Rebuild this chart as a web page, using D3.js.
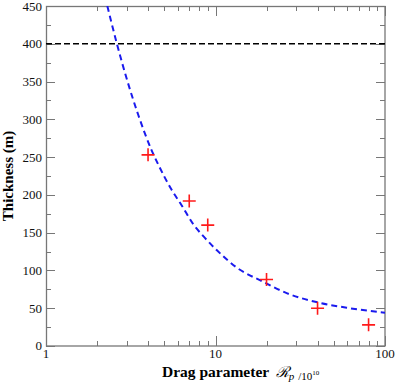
<!DOCTYPE html>
<html>
<head>
<meta charset="utf-8">
<script src="https://cdn.jsdelivr.net/npm/d3@7"></script>
<style>
  body { margin: 0; background: #fff; }
  text { font-family: "Liberation Serif", "Times New Roman", serif; }
</style>
</head>
<body>
<svg id="chart" width="396" height="382"></svg>
<script>
"use strict";

// measured points (drag parameter, thickness in m)
const dragParam = [4, 7, 9, 20, 40, 80];
const thickness = [253, 192, 160, 88, 50, 28];

// fitted curve
const curveX = [2.3, 2.62, 3, 3.5, 4.2, 4.6, 5.5, 6.32, 7.4, 8.5, 10.16, 13.3, 19.1, 26.3, 41.4, 62.1, 100];
const curveY = [450, 400, 353, 306, 259, 240, 207, 186, 161, 145, 127, 104, 85, 70, 57, 50, 44];

const limitLine = 400;

const yTicks = [0, 50, 100, 150, 200, 250, 300, 350, 400, 450];
const yMinor = [25, 75, 125, 175, 225, 275, 325, 375, 425];
const xTicks = [1, 10, 100];
const xMinor = [2, 3, 4, 5, 6, 7, 8, 9, 20, 30, 40, 50, 60, 70, 80, 90];

function makeChart(svg_id) {
    const svg = d3.select(svg_id),
        margin = {top: 6, right: 11, bottom: 36, left: 46},
        width = +svg.attr("width") - margin.left - margin.right,
        height = +svg.attr("height") - margin.top - margin.bottom,
        x = d3.scaleLog().domain([1, 100]).range([0, width]),
        y = d3.scaleLinear().domain([0, 450]).range([height, 0]),
        g = svg.append("g")
            .attr("transform", `translate(${margin.left},${margin.top})`);

    const tickColor = "#777";

    g.append("clipPath").attr("id", "clip")
        .append("rect").attr("width", width).attr("height", height);

    // ticks: all four sides, pointing inward
    const tickG = g.append("g").attr("stroke", tickColor).attr("stroke-width", 1);
    const addTicks = (vals, len, vertical) => {
        vals.forEach(v => {
            if (vertical) {
                const px = Math.round(x(v)) + 0.5;
                tickG.append("line").attr("x1", px).attr("x2", px).attr("y1", height).attr("y2", height - len);
                tickG.append("line").attr("x1", px).attr("x2", px).attr("y1", 0).attr("y2", len);
            } else {
                const py = Math.round(y(v)) + 0.5;
                tickG.append("line").attr("y1", py).attr("y2", py).attr("x1", 0).attr("x2", len);
                tickG.append("line").attr("y1", py).attr("y2", py).attr("x1", width).attr("x2", width - len);
            }
        });
    };
    addTicks(xTicks, 10, true);
    addTicks(xMinor, 5, true);
    addTicks(yTicks, 9, false);
    addTicks(yMinor, 5, false);

    // tick labels
    g.append("g").selectAll("text").data(yTicks).enter().append("text")
        .attr("x", -4).attr("y", d => Math.max(y(d), 1)).attr("dy", "0.34em")
        .attr("text-anchor", "end").attr("font-size", 13).attr("fill", "#111")
        .text(d => d);
    g.append("g").selectAll("text").data(xTicks).enter().append("text")
        .attr("x", d => x(d)).attr("y", height + 12)
        .attr("text-anchor", "middle").attr("font-size", 13).attr("fill", "#111")
        .text(d => d);

    // frame
    g.append("rect").attr("x", 0.5).attr("y", 0.5)
        .attr("width", width - 0.5).attr("height", height - 0.5)
        .attr("fill", "none").attr("stroke", tickColor).attr("stroke-width", 1.3);

    // 400 m line
    g.append("line").attr("clip-path", "url(#clip)")
        .attr("x1", 0).attr("x2", width).attr("y1", y(limitLine)).attr("y2", y(limitLine))
        .attr("stroke", "#000").attr("stroke-width", 1.6).attr("stroke-dasharray", "6,3");

    // fitted curve
    const pts = curveX.map((v, i) => [v, curveY[i]]);
    g.append("path").datum(pts).attr("clip-path", "url(#clip)")
        .attr("fill", "none").attr("stroke", "#1a1aee").attr("stroke-width", 2)
        .attr("stroke-dasharray", "6,4")
        .attr("d", d3.line().x(d => x(d[0])).y(d => y(d[1])).curve(d3.curveMonotoneX));

    // data markers
    g.append("g").selectAll("path").data(dragParam).enter().append("path")
        .attr("transform", (d, i) => `translate(${x(d)},${y(thickness[i])})`)
        .attr("d", "M-6.5,0H6.5M0,-6.5V6.5")
        .attr("stroke", "#ff1a1a").attr("stroke-width", 1.6).attr("fill", "none");

    // axis titles
    const xl = svg.append("text").attr("x", 162).attr("y", 377).attr("fill", "#000");
    xl.append("tspan").attr("font-weight", "bold").attr("font-size", 15.5).text("Drag parameter ");
    xl.append("tspan").attr("dx", 3).attr("font-size", 15).attr("font-style", "italic")
        .attr("font-family", "DejaVu Serif").text("ℛ");
    xl.append("tspan").attr("font-size", 11).attr("font-style", "italic").attr("dy", 3).text("p");
    xl.append("tspan").attr("font-size", 11).attr("dx", 4).text("/10");
    xl.append("tspan").attr("font-size", 7).attr("dy", -5).text("10");

    svg.append("text")
        .attr("transform", `translate(13,${margin.top + height / 2}) rotate(-90)`)
        .attr("text-anchor", "middle").attr("font-weight", "bold").attr("font-size", 15)
        .text("Thickness (m)");
}

makeChart("#chart");
</script>
</body>
</html>
